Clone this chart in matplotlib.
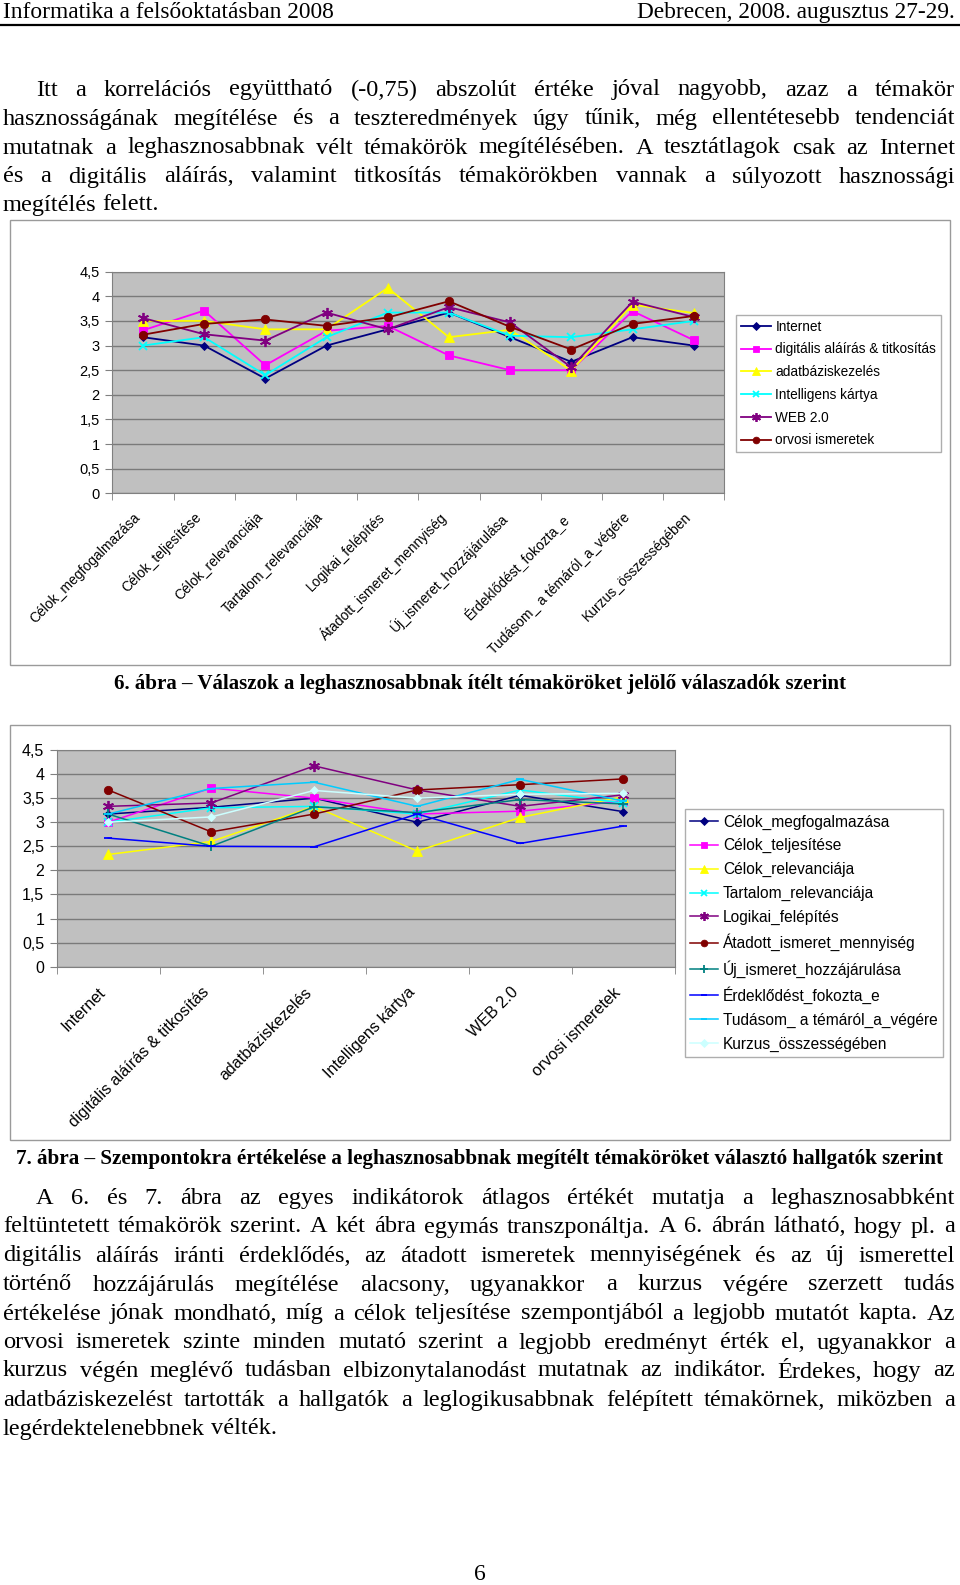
import matplotlib
matplotlib.use("Agg")
import matplotlib.pyplot as plt
from matplotlib.patches import Rectangle
from matplotlib.lines import Line2D
from matplotlib.transforms import ScaledTranslation
import numpy as np

W, H = 960, 1585
SERIF = "Liberation Serif"
SANS = "Liberation Sans"

# criteria (x axis of fig. 6, series of fig. 7)
criteria = ["Célok_megfogalmazása", "Célok_teljesítése", "Célok_relevanciája",
            "Tartalom_relevanciája", "Logikai_felépítés", "Átadott_ismeret_mennyiség",
            "Új_ismeret_hozzájárulása", "Érdeklődést_fokozta_e",
            "Tudásom_ a témáról_a_végére", "Kurzus_összességében"]
# topics (series of fig. 6, x axis of fig. 7)
topics = ["Internet", "digitális aláírás & titkosítás", "adatbáziskezelés",
          "Intelligens kártya", "WEB 2.0", "orvosi ismeretek"]

internet    = [3.17, 3.00, 2.33, 3.00, 3.33, 3.67, 3.17, 2.67, 3.17, 3.00]
digitalis   = [3.31, 3.71, 2.60, 3.30, 3.40, 2.80, 2.50, 2.50, 3.70, 3.11]
adatbazis   = [3.50, 3.50, 3.33, 3.33, 4.17, 3.17, 3.32, 2.49, 3.83, 3.66]
intelligens = [3.00, 3.17, 2.40, 3.17, 3.67, 3.67, 3.20, 3.17, 3.33, 3.50]
web20       = [3.56, 3.23, 3.10, 3.67, 3.33, 3.78, 3.47, 2.56, 3.89, 3.58]
orvosi      = [3.22, 3.44, 3.53, 3.40, 3.57, 3.90, 3.38, 2.92, 3.44, 3.60]

fig = plt.figure(figsize=(W / 100, H / 100), dpi=100)
rend = fig.canvas.get_renderer()


def fx(x): return x / W
def fy(y): return 1 - y / H


def para(lines, ys, x0=3, x1=955, indent=33, size=17.6):
    # justified paragraph, last line left aligned
    for i, (line, y) in enumerate(zip(lines, ys)):
        words = line.split(" ")
        start = x0 + (indent if i == 0 else 0)
        ts = [fig.text(0, fy(y), w, fontsize=size, family=SERIF, va="center") for w in words]
        widths = [t.get_window_extent(rend).width for t in ts]
        if i < len(lines) - 1 and len(words) > 1:
            gap = max((x1 - start - sum(widths)) / (len(words) - 1), 2.5)
        else:
            gap = size * 100 / 72 * 0.25
        x = start
        for t, w in zip(ts, widths):
            t.set_x(fx(x)); x += w + gap


# header
fig.text(fx(3), fy(12.5), "Informatika a felsőoktatásban 2008", fontsize=16.8, family=SERIF, va="center")
fig.text(fx(955), fy(12.5), "Debrecen, 2008. augusztus 27-29.", fontsize=16.8, family=SERIF, va="center", ha="right")
fig.add_artist(Line2D([0, 1], [fy(25)] * 2, color="black", lw=1.6))

para(["Itt a korrelációs együttható (-0,75) abszolút értéke jóval nagyobb, azaz a témakör",
      "hasznosságának megítélése és a teszteredmények úgy tűnik, még ellentétesebb tendenciát",
      "mutatnak a leghasznosabbnak vélt témakörök megítélésében. A tesztátlagok csak az Internet",
      "és a digitális aláírás, valamint titkosítás témakörökben vannak a súlyozott hasznossági",
      "megítélés felett."],
     [90, 119, 148, 177, 205])

colors = ["#000080", "#FF00FF", "#FFFF00", "#00FFFF", "#800080", "#800000",
          "#008080", "#0000FF", "#00CCFF", "#CCFFFF"]
markers = ["D", "s", "^", "x", (6, 2, 0), "o", "+", "_", "_", "D"]
msizes = [4.5, 5.5, 6.5, 6, 8, 6, 7, 6, 6, 4.5]


def chart(box, axrect, cats, series, names, tick_fs, lab_fs, lab_dx, lab_pad, leg_xy, leg_fs, leg_sp, leg_hl, lw):
    fig.add_artist(Rectangle((fx(box[0]), fy(box[3])), (box[2] - box[0]) / W, (box[3] - box[1]) / H,
                             transform=fig.transFigure, fill=False, edgecolor="#9a9a9a", lw=1))
    x0, y0, x1, y1 = axrect
    ax = fig.add_axes([fx(x0), fy(y1), (x1 - x0) / W, (y1 - y0) / H])
    ax.set_facecolor("#C0C0C0")
    n = len(cats)
    xs = np.arange(n)
    for k, (vals, name) in enumerate(zip(series, names)):
        ax.plot(xs, vals, color=colors[k], marker=markers[k], ms=msizes[k], lw=lw,
                mew=1.3 if markers[k] in ("x", "+", "_") or isinstance(markers[k], tuple) else 0.6,
                mfc=colors[k], mec=colors[k], label=name, zorder=3)
    ax.set_xlim(-0.5, n - 0.5)
    ax.set_ylim(0, 4.5)
    ax.set_yticks(np.arange(0, 4.51, 0.5))
    ax.set_yticklabels([f"{v:g}".replace(".", ",") for v in np.arange(0, 4.51, 0.5)],
                       fontsize=tick_fs, family=SANS)
    ax.yaxis.grid(True, color="#7a7a7a", lw=1)
    ax.set_axisbelow(True)
    ax.set_xticks(xs)
    ax.set_xticks(np.arange(-0.5, n, 1), minor=True)
    ax.tick_params(axis="x", which="major", length=0, pad=lab_pad)
    ax.tick_params(axis="x", which="minor", length=5, color="#808080")
    ax.tick_params(axis="y", length=5, color="#808080", pad=4)
    ax.set_xticklabels(cats, rotation=45, ha="right", rotation_mode="anchor",
                       fontsize=lab_fs, family=SANS)
    shift = ScaledTranslation(lab_dx / 100, 0, fig.dpi_scale_trans)
    for t in ax.xaxis.get_major_ticks():
        t.label1.set_transform(t.label1.get_transform() + shift)
    for s in ax.spines.values():
        s.set_color("#808080")
    leg = ax.legend(loc="upper left", bbox_to_anchor=(fx(leg_xy[0]), fy(leg_xy[1])),
                    bbox_transform=fig.transFigure, borderaxespad=0, frameon=True, fancybox=False,
                    edgecolor="#9a9a9a", prop={"family": SANS, "size": leg_fs},
                    labelspacing=leg_sp, handlelength=leg_hl, handletextpad=0.35, borderpad=0.35,
                    markerscale=0.8)
    leg.get_frame().set_linewidth(1)
    return ax


# fig. 6
chart((10, 220, 950, 665), (112.3, 271.7, 724.3, 493.3), criteria,
      [internet, digitalis, adatbazis, intelligens, web20, orvosi], topics,
      10.5, 10.0, -10, 12, (736, 315), 9.8, 0.64, 2.2, 1.3)
fig.text(0.5, fy(684), "6. ábra – Válaszok a leghasznosabbnak ítélt témaköröket jelölő válaszadók szerint",
         fontsize=15.1, family=SERIF, weight="bold", ha="center", va="center")

# fig. 7 (transpose of fig. 6)
table = np.array([internet, digitalis, adatbazis, intelligens, web20, orvosi]).T
chart((10, 725, 950, 1140), (56.7, 750, 674.7, 966.7), topics,
      list(table), criteria,
      11.5, 11.6, -10, 13, (685, 809), 11.2, 0.56, 1.75, 1.1)
fig.text(0.5, fy(1159), "7. ábra – Szempontokra értékelése a leghasznosabbnak megítélt témaköröket választó hallgatók szerint",
         fontsize=15.2, family=SERIF, weight="bold", ha="center", va="center")

para(["A 6. és 7. ábra az egyes indikátorok átlagos értékét mutatja a leghasznosabbként",
      "feltüntetett témakörök szerint. A két ábra egymás transzponáltja. A 6. ábrán látható, hogy pl. a",
      "digitális aláírás iránti érdeklődés, az átadott ismeretek mennyiségének és az új ismerettel",
      "történő hozzájárulás megítélése alacsony, ugyanakkor a kurzus végére szerzett tudás",
      "értékelése jónak mondható, míg a célok teljesítése szempontjából a legjobb mutatót kapta. Az",
      "orvosi ismeretek szinte minden mutató szerint a legjobb eredményt érték el, ugyanakkor a",
      "kurzus végén meglévő tudásban elbizonytalanodást mutatnak az indikátor. Érdekes, hogy az",
      "adatbáziskezelést tartották a hallgatók a leglogikusabbnak felépített témakörnek, miközben a",
      "legérdektelenebbnek vélték."],
     [1198.5, 1227, 1256, 1285, 1314, 1343, 1371, 1400.5, 1429])

fig.text(0.5, fy(1574), "6", fontsize=17, family=SERIF, ha="center", va="center")

fig.savefig("out.png", dpi=100)
